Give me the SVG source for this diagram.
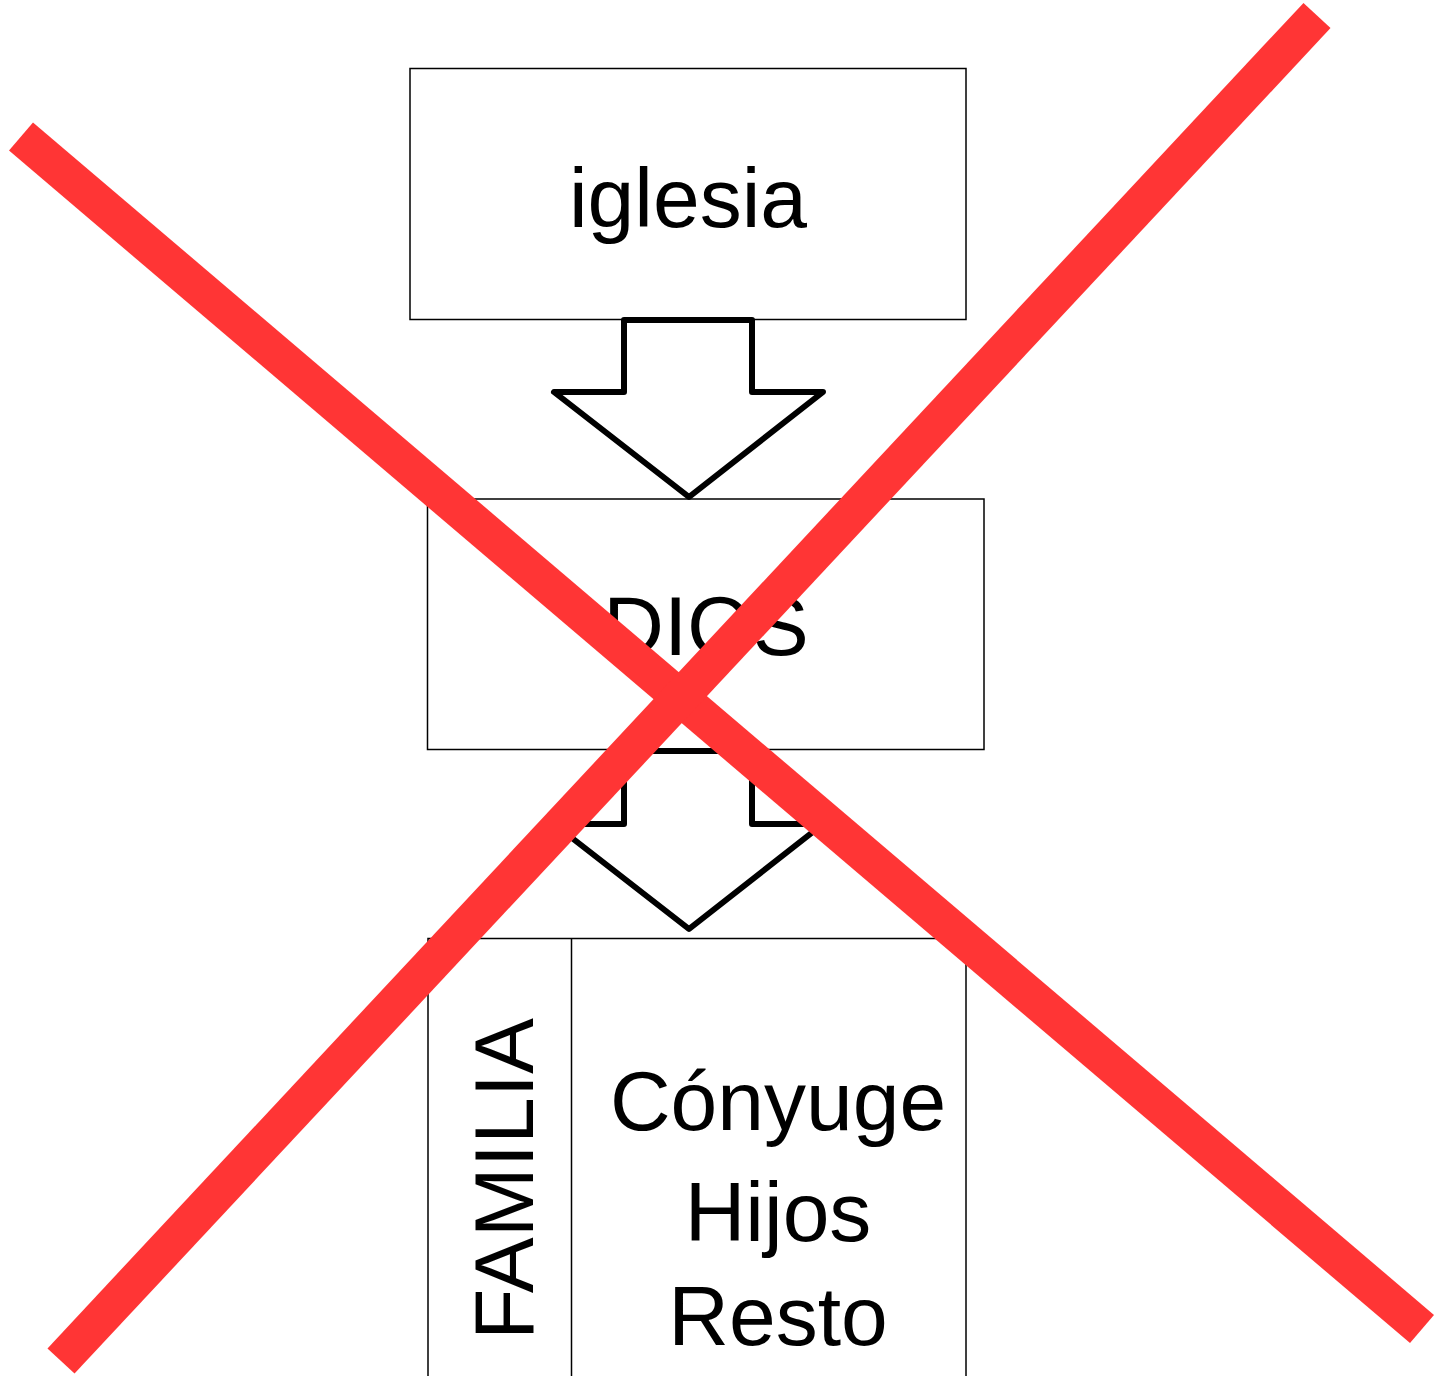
<svg xmlns="http://www.w3.org/2000/svg" width="1437" height="1376" viewBox="0 0 1437 1376">
<style>
.box{fill:#fff;stroke:#000;stroke-width:1.5}
.arrow{fill:#fff;stroke:#000;stroke-width:6;stroke-linejoin:round}
.t{font-family:"Liberation Sans",Arial,sans-serif;font-size:84px;fill:#000;text-anchor:middle}
.x{stroke:#ff3535;stroke-width:37;stroke-linecap:butt}
</style>
<rect width="1437" height="1376" fill="#fff"/>
<g id="iglesia">
<rect class="box" x="410" y="68.5" width="556" height="251"/>
<text class="t" x="688" y="227">iglesia</text>
</g>
<g id="dios">
<rect class="box" x="427.5" y="499" width="556.5" height="250.5"/>
<text class="t" x="706" y="655">DIOS</text>
</g>
<g id="familia">
<rect class="box" x="428" y="938.5" width="538" height="460"/>
<line x1="571.5" y1="938.5" x2="571.5" y2="1376" stroke="#000" stroke-width="1.5"/>
<text class="t" transform="translate(533,1179) rotate(-90)" x="0" y="0">FAMILIA</text>
<text class="t" x="778" y="1130">Cónyuge</text>
<text class="t" x="778" y="1241">Hijos</text>
<text class="t" x="778" y="1345">Resto</text>
</g>
<g id="connectors">
<path class="arrow" d="M624,320 H752 V392 H823 L689,497 L554,392 H624 Z"/>
<path class="arrow" d="M624,751 H752 V824 H823 L689,929 L554,824 H624 Z"/>
</g>
<g id="cross">
<line class="x" x1="21" y1="136.5" x2="1422" y2="1329"/>
<line class="x" x1="61" y1="1361" x2="1317" y2="15.5"/>
</g>
</svg>
